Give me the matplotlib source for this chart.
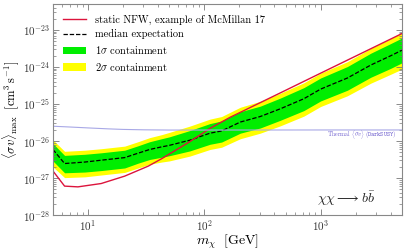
import numpy as np
import matplotlib
matplotlib.use("Agg")
import matplotlib.pyplot as plt
from matplotlib.lines import Line2D
from matplotlib.patches import Patch
from matplotlib.ticker import LogLocator, NullFormatter

plt.rcParams['font.family'] = 'serif'
plt.rcParams['font.serif'] = ['cmr10', 'DejaVu Serif']
plt.rcParams['mathtext.fontset'] = 'cm'
plt.rcParams['axes.formatter.use_mathtext'] = True
plt.rcParams['axes.unicode_minus'] = False

# dark matter mass grid of the limits (GeV)
mass = [5, 6.3, 9.4, 13, 20.7, 27, 34, 43, 50, 75, 112, 141, 204, 303, 452,
        718, 1000, 1700, 2700, 4000, 5000]
# log10 of median expected <sigma v>
median_log = [-26.23, -26.61, -26.57, -26.52, -26.45, -26.33, -26.23, -26.16,
              -26.12, -25.98, -25.79, -25.73, -25.49, -25.34, -25.13, -24.86,
              -24.60, -24.30, -23.95, -23.70, -23.55]
# band half widths (decades) above / below the median
sig1_up = [0.16, 0.22, 0.21, 0.20, 0.20, 0.20, 0.21, 0.22, 0.23, 0.26, 0.26,
           0.27, 0.28, 0.28, 0.29, 0.30, 0.30, 0.31, 0.32, 0.33, 0.33]
sig1_dn = [0.31, 0.25, 0.27, 0.28, 0.28, 0.27, 0.27, 0.28, 0.28, 0.29, 0.30,
           0.30, 0.30, 0.31, 0.31, 0.32, 0.32, 0.33, 0.33, 0.34, 0.34]
sig2_up = [0.26, 0.33, 0.32, 0.31, 0.31, 0.31, 0.32, 0.33, 0.35, 0.38, 0.38,
           0.39, 0.40, 0.41, 0.42, 0.43, 0.43, 0.44, 0.45, 0.46, 0.47]
sig2_dn = [0.47, 0.38, 0.40, 0.40, 0.40, 0.40, 0.40, 0.41, 0.42, 0.43, 0.44,
           0.44, 0.45, 0.45, 0.46, 0.47, 0.47, 0.48, 0.49, 0.50, 0.51]

# static NFW limit
nfw_mass = [5, 6.3, 8.2, 13, 20.7, 33, 43, 75, 112, 167, 452, 1000, 5000]
nfw_log = [-26.81, -27.22, -27.24, -27.15, -26.95, -26.68, -26.48, -26.02,
           -25.66, -25.36, -24.70, -24.17, -23.10]

# thermal relic cross section (DarkSUSY)
therm_mass = [5, 7, 10, 15, 20, 30, 50, 100, 1000, 5000]
therm_xs = [2.50e-26, 2.38e-26, 2.25e-26, 2.12e-26, 2.05e-26, 2.00e-26,
            1.97e-26, 1.97e-26, 1.98e-26, 1.98e-26]

xticks = [10, 100, 1000]
yticks = [1e-28, 1e-27, 1e-26, 1e-25, 1e-24, 1e-23]


def main():
    m = np.array(mass)
    med = np.array(median_log)

    fig = plt.figure(figsize=(4.07, 2.5), dpi=100)
    ax = fig.add_axes([0.130, 0.14, 0.8575, 0.844])

    ax.fill_between(m, 10 ** (med - np.array(sig2_dn)), 10 ** (med + np.array(sig2_up)),
                    color='#ffff00', lw=0)
    ax.fill_between(m, 10 ** (med - np.array(sig1_dn)), 10 ** (med + np.array(sig1_up)),
                    color='#00ee00', lw=0)
    ax.plot(m, 10 ** med, color='black', ls=(0, (3.5, 1.5)), lw=0.9)
    ax.plot(nfw_mass, 10 ** np.array(nfw_log), color='#dc143c', lw=1.0)
    ax.plot(therm_mass, therm_xs, color='#a8a8e6', lw=0.8)

    ax.text(4450, 1.5e-26, r'Thermal $\langle\sigma v\rangle$ $(\mathtt{DarkSUSY})$',
            fontsize=4.3, color='#6a5acd', ha='right', va='center')
    ax.text(0.924, 0.075, r'$\chi\chi \longrightarrow b\bar{b}$', transform=ax.transAxes,
            fontsize=10, ha='right', va='center', color='#222222')

    ax.set_xscale('log')
    ax.set_yscale('log')
    ax.set_xticks(xticks)
    ax.set_yticks(yticks)
    ax.xaxis.set_minor_locator(LogLocator(base=10, subs=np.arange(2, 10)))
    ax.yaxis.set_minor_locator(LogLocator(base=10, subs=np.arange(2, 10)))
    ax.xaxis.set_minor_formatter(NullFormatter())
    ax.yaxis.set_minor_formatter(NullFormatter())
    ax.set_xlim(5, 5000)
    ax.set_ylim(1e-28, 5e-23)

    ax.set_xlabel(r'$m_\chi\ \ [\mathrm{GeV}]$', fontsize=10, labelpad=0)
    ax.set_ylabel(r'$\overline{\langle \sigma v \rangle}_{\rm max}\ \ [\mathrm{cm}^3\,\mathrm{s}^{-1}]$',
                  fontsize=9)
    ax.yaxis.set_label_coords(-0.089, 0.5)

    ax.tick_params(which='both', direction='in', top=True, right=True,
                   colors='#777777', labelcolor='#333333', labelsize=8, pad=2)
    ax.tick_params(which='major', length=4, width=0.6)
    ax.tick_params(which='minor', length=2, width=0.5)
    for s in ax.spines.values():
        s.set_color('#888888')
        s.set_linewidth(0.8)

    handles = [Line2D([], [], color='#dc143c', lw=1.0),
               Line2D([], [], color='black', ls=(0, (3.5, 1.5)), lw=0.9),
               Patch(color='#00ee00', lw=0),
               Patch(color='#ffff00', lw=0)]
    labels = ['static NFW, example of McMillan 17', 'median expectation',
              r'$1\sigma$ containment', r'$2\sigma$ containment']
    ax.legend(handles, labels, loc='upper left', frameon=False, fontsize=7.5,
              handlelength=2.2, labelspacing=0.45, borderaxespad=0.6)

    fig.savefig('out.png', dpi=100)


if __name__ == "__main__":
    main()
